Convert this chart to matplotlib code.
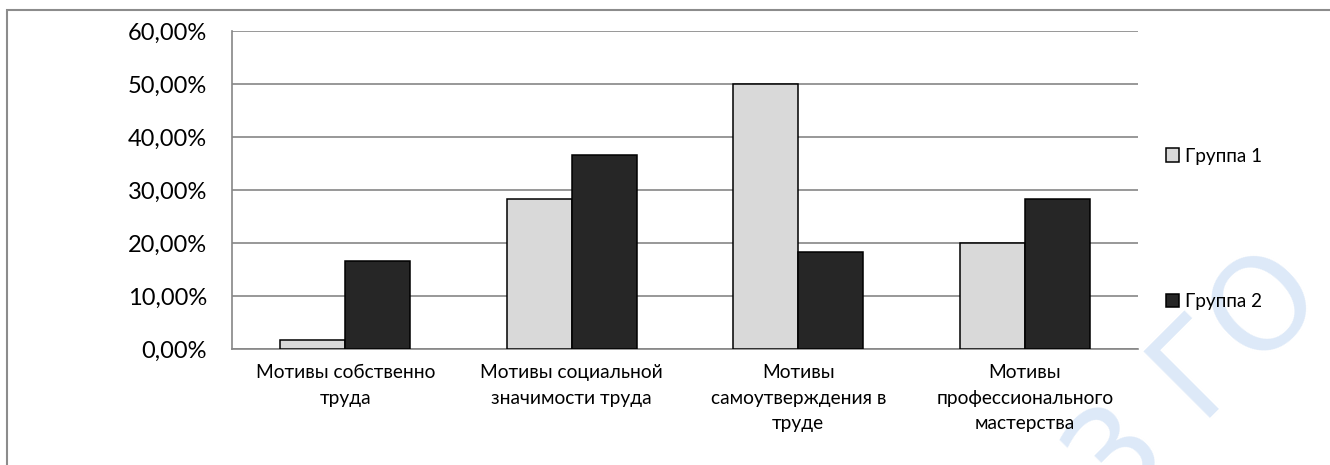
import matplotlib.pyplot as plt
import matplotlib.patches as mpatches
from matplotlib.ticker import FuncFormatter
import numpy as np

categories = [
    "Мотивы собственно\nтруда",
    "Мотивы социальной\nзначимости труда",
    "Мотивы\nсамоутверждения в\nтруде",
    "Мотивы\nпрофессионального\nмастерства",
]
group1 = [1.67, 28.33, 50.0, 20.0]
group2 = [16.67, 36.67, 18.33, 28.33]
series_names = ["Группа 1", "Группа 2"]

plt.rcParams['font.family'] = ['Lato', 'DejaVu Sans']

fig = plt.figure(figsize=(13.3, 4.65), dpi=100)
ax = fig.add_axes([0.1744, 0.2495, 0.6812, 0.6839])
ax.patch.set_alpha(0)

# outer frame of the chart object
frame = mpatches.Rectangle((7 / 1330, -0.1), 1.1, 1 - 10 / 465 + 0.1,
                           transform=fig.transFigure, fill=False,
                           edgecolor='#8c8c8c', linewidth=1.5, zorder=0)
fig.patches.append(frame)

# faint watermark in the lower right corner, behind everything else
fig.text(1150 / 1330, 1 - 428 / 465, "№3 ГО", fontsize=92, rotation=45,
         color='#dde9f8', ha='center', va='center', zorder=-1,
         family=['DejaVu Sans'])

x = np.arange(len(categories))
w = 0.287
ax.bar(x - w / 2, group1, w, color='#d9d9d9', edgecolor='black',
       linewidth=1.1, zorder=3, label=series_names[0])
ax.bar(x + w / 2, group2, w, color='#262626', edgecolor='black',
       linewidth=1.1, zorder=3, label=series_names[1])

ax.set_xlim(-0.5, 3.5)
ax.set_ylim(0, 60)
ax.set_yticks(np.arange(0, 61, 10))
ax.yaxis.set_major_formatter(FuncFormatter(lambda v, p: f"{v:.2f}".replace('.', ',') + "%"))
ax.grid(axis='y', color='#868686', linewidth=1.2, zorder=0)
ax.set_axisbelow(True)

ax.set_xticks(x)
ax.set_xticklabels(categories, fontsize=13.8, linespacing=1.6)
ax.tick_params(axis='x', length=0, pad=11)
ax.tick_params(axis='y', length=0, pad=18, labelsize=17)

for s in ['top', 'right']:
    ax.spines[s].set_visible(False)
for s in ['left', 'bottom']:
    ax.spines[s].set_color('#868686')
    ax.spines[s].set_linewidth(1.2)

ax.legend(loc='center left', bbox_to_anchor=(1.031, 0.3775), frameon=False,
          fontsize=13.6, labelspacing=6.8, handlelength=0.7, handleheight=0.7,
          handletextpad=0.3, borderaxespad=0, borderpad=0)

fig.savefig("out.png", dpi=100)
